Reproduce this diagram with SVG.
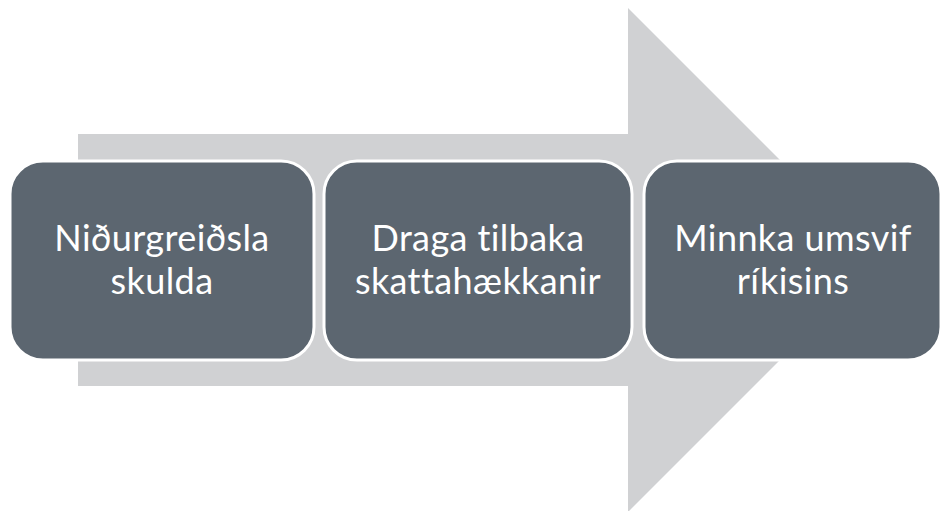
<svg xmlns="http://www.w3.org/2000/svg" width="942" height="511" viewBox="0 0 942 511">
<style>
.box{fill:#5c6670;stroke:#ffffff;stroke-width:3}
.lbl{fill:#ffffff;font-family:Lato,"Open Sans",sans-serif;font-size:36px;letter-spacing:0.4px;text-anchor:middle}
</style>
<rect width="942" height="511" fill="#ffffff"/>
<g id="arrow">
<polygon points="78,134 628,134 628,8 880,260 628,512 628,386 78,386" fill="#d0d1d3"/>
</g>
<g id="node1">
<rect class="box" x="10" y="161" width="304" height="199" rx="33"/>
<text class="lbl" x="162" y="251">Niðurgreiðsla</text>
<text class="lbl" x="162" y="294">skulda</text>
</g>
<g id="node2">
<rect class="box" x="324" y="161" width="308" height="199" rx="33"/>
<text class="lbl" x="478" y="251">Draga tilbaka</text>
<text class="lbl" x="478" y="294">skattahækkanir</text>
</g>
<g id="node3">
<rect class="box" x="644" y="161" width="297" height="199" rx="33"/>
<text class="lbl" x="793" y="251">Minnka umsvif</text>
<text class="lbl" x="793" y="294">ríkisins</text>
</g>
</svg>
